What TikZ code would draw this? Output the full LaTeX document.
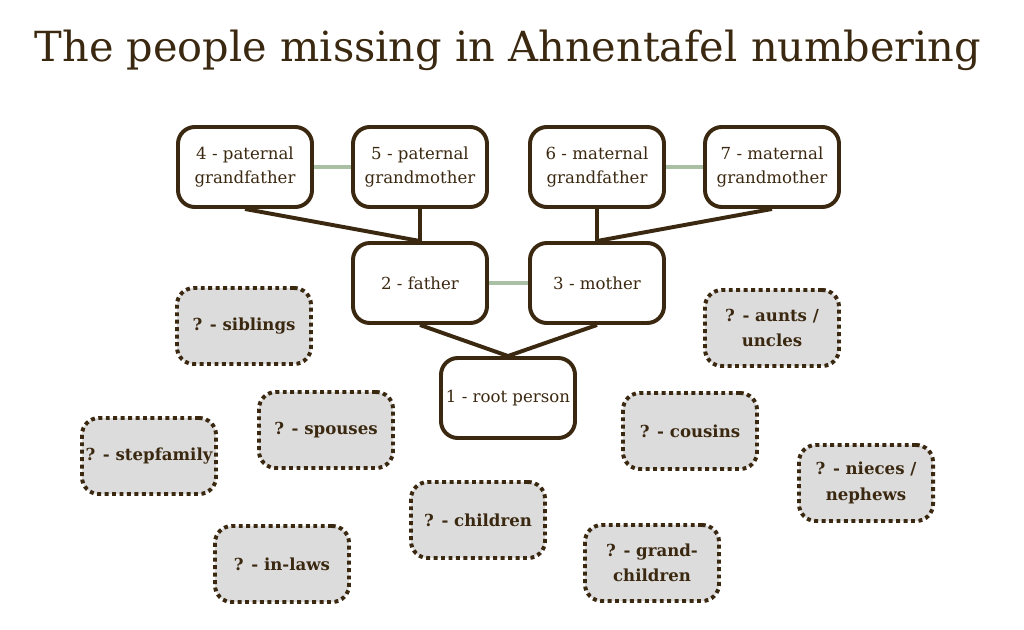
\documentclass[tikz,border=0pt]{standalone}
\usepackage{fontspec}
\setmainfont{DejaVu Serif}
\usepackage{xcolor}
\definecolor{brown}{HTML}{3B2810}
\definecolor{sage}{HTML}{A9C0A4}
\definecolor{greybox}{HTML}{DCDCDC}

\tikzset{
    person/.style={draw=brown, line width=2.8pt, rounded corners=12pt, fill=white,
        minimum width=3.35cm, minimum height=2cm, align=center, text=brown,
        font=\fontsize{11.8}{17.5}\selectfont},
    missing/.style={draw=brown, line width=2.8pt, rounded corners=12pt, fill=greybox,
        dash pattern=on 2.8pt off 2.5pt, minimum width=3.35cm, minimum height=1.9cm,
        inner xsep=1pt, align=center, text=brown, font=\fontsize{11.8}{18}\selectfont\bfseries},
    couple/.style={sage, line width=2.8pt},
    link/.style={brown, line width=2.8pt}
}

\begin{document}
\begin{tikzpicture}[x=0.025cm,y=-0.025cm]
    \useasboundingbox (0,0) rectangle (1024,630);
    \node[text=brown, font=\fontsize{29.5}{34}\selectfont] (title) at (508,50) {The people missing in Ahnentafel numbering};
    % couples
    \node[person] (n4) at (245,167) {4 - paternal\\grandfather};
    \node[person] (n5) at (420,167) {5 - paternal\\grandmother};
    \node[person] (n6) at (597,167) {6 - maternal\\grandfather};
    \node[person] (n7) at (772,167) {7 - maternal\\grandmother};
    \node[person] (n2) at (420,283) {2 - father};
    \node[person] (n3) at (597,283) {3 - mother};
    \node[person] (n1) at (508,398) {1 - root person};
    \draw[couple] (n4) -- (n5);
    \draw[couple] (n6) -- (n7);
    \draw[couple] (n2) -- (n3);
    \draw[link] (n4.south) -- (n2.north) -- (n5.south);
    \draw[link] (n7.south) -- (n3.north) -- (n6.south);
    \draw[link] (n2.south) -- (n1.north) -- (n3.south);
    % relatives without numbers
    \node[missing] (siblings) at (244,326) {? - siblings};
    \node[missing] (spouses) at (326,430) {? - spouses};
    \node[missing] (stepfamily) at (149,456) {? - stepfamily};
    \node[missing] (inlaws) at (282,564) {? - in-laws};
    \node[missing] (children) at (478,520) {? - children};
    \node[missing] (grandchildren) at (652,563) {? - grand-\\children};
    \node[missing] (cousins) at (690,431) {? - cousins};
    \node[missing] (aunts) at (772,328) {? - aunts /\\uncles};
    \node[missing] (nieces) at (866,483) {? - nieces /\\nephews};
\end{tikzpicture}
\end{document}
